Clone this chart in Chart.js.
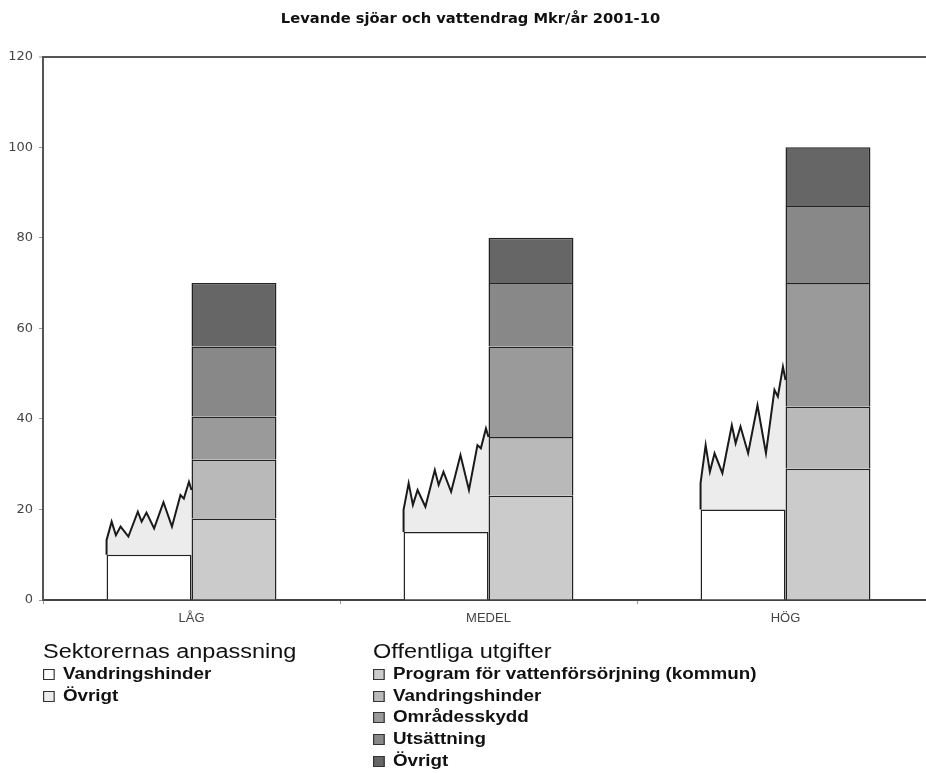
<!DOCTYPE html>
<html>
<head>
<meta charset="utf-8">
<script src="https://cdn.jsdelivr.net/npm/chart.js@4.4.1/dist/chart.umd.min.js"></script>
<style>
  html, body { margin: 0; padding: 0; overflow: hidden; background: #fff; }
  #wrap { position: relative; width: 926px; height: 773px; overflow: hidden; }
  #wrap canvas { position: absolute; left: 0; top: 0; }
  .legend { position: absolute; font-family: "Liberation Sans", Arial, sans-serif; color: #111;
            transform: scaleX(1.175); transform-origin: 0 0; }
  .legend .head { font-size: 20px; height: 23px; line-height: 23px; }
  .legend .item { font-size: 16px; font-weight: bold; height: 21.7px; line-height: 21.7px; white-space: nowrap; }
  .legend .sw { display: inline-block; width: 8px; height: 9px; border: 1px solid #333; margin-right: 7px; vertical-align: -1px; }
</style>
</head>
<body>
<div id="wrap">
  <canvas id="chart" width="950" height="773"></canvas>
  <div class="legend" id="legSek" style="left:43px; top:640px;"></div>
  <div class="legend" id="legOff" style="left:373px; top:640px;"></div>
</div>
<script>
const categories = ['LÅG', 'MEDEL', 'HÖG'];

// Sektorernas anpassning
const sekVandring = [10, 15, 20];
// jagged top of "Övrigt" (value at each step across the bar)
const zigSteps = [0, 0.06, 0.11, 0.165, 0.257, 0.368, 0.413, 0.47, 0.56, 0.67, 0.77, 0.87, 0.91, 0.97, 1];
const sekOvrigtLag = [13.2, 17.3, 14.3, 16.2, 14.0, 19.5, 17.3, 19.3, 15.8, 21.6, 16.2, 23.2, 22.4, 26.1, 24.3];
const sekOvrigtMedel = [19.9, 25.8, 21.0, 24.3, 20.6, 28.7, 25.4, 28.3, 23.9, 32.0, 24.3, 34.2, 33.5, 37.9, 36.0];
const sekOvrigtHog = [25.8, 34.2, 28.3, 32.4, 28.0, 38.6, 34.6, 38.3, 32.4, 43.0, 32.4, 46.4, 44.9, 51.5, 48.6];

// Offentliga utgifter
const offProgram = [18, 23, 29];
const offVandring = [13, 13, 13.7];
const offOmrade = [9.5, 20, 27.3];
const offUtsatt = [15.5, 14, 17];
const offOvrigt = [14, 10, 13];

const yTicks = [0, 20, 40, 60, 80, 100, 120];

const FONT = '"Liberation Sans", Arial, sans-serif';
const WIDE = '"DejaVu Sans", Verdana, sans-serif';
const catPct = 0.572;
const edge = '#222';

// all marks sit on one hidden linear axis (category i at x = i),
// the visible category axis only carries the labels
function bar(label, data, stack, color) {
  return {
    label, stack, xAxisID: 'xz', order: 0,
    data: data.map((v, i) => ({ x: i, y: v })),
    backgroundColor: color, borderColor: edge, borderWidth: 1.5
  };
}

// left bar spans i - catPct/2 .. i
function zig(i, tops) {
  const w = catPct / 2;
  const pts = [{ x: i - w, y: sekVandring[i] }];
  tops.forEach((v, k) => pts.push({ x: i - w + zigSteps[k] * w, y: v }));
  return {
    type: 'line', label: 'Övrigt', xAxisID: 'xz', stack: 'z' + i,
    data: pts, fill: { value: sekVandring[i] },
    backgroundColor: '#ececec', borderColor: '#1a1a1a', borderWidth: 2,
    pointRadius: 0, tension: 0, order: 1
  };
}

const sekSets = [
  bar('Vandringshinder', sekVandring, 'sek', '#ffffff')
];
const offSets = [
  bar('Program för vattenförsörjning (kommun)', offProgram, 'off', '#cbcbcb'),
  bar('Vandringshinder', offVandring, 'off', '#b9b9b9'),
  bar('Områdesskydd', offOmrade, 'off', '#9a9a9a'),
  bar('Utsättning', offUtsatt, 'off', '#888888'),
  bar('Övrigt', offOvrigt, 'off', '#666666')
];
const zigSets = [zig(0, sekOvrigtLag), zig(1, sekOvrigtMedel), zig(2, sekOvrigtHog)];

new Chart(document.getElementById('chart'), {
  type: 'bar',
  data: {
    labels: categories,
    datasets: [...sekSets, ...offSets, ...zigSets]
  },
  options: {
    responsive: false,
    animation: false,
    datasets: { bar: { categoryPercentage: catPct, barPercentage: 1 } },
    layout: { padding: { left: 7, right: 16, top: 0, bottom: 143 } },
    plugins: {
      legend: { display: false },
      tooltip: { enabled: false },
      title: {
        display: true,
        text: 'Levande sjöar och vattendrag Mkr/år 2001-10',
        color: '#111',
        font: { family: WIDE, size: 14.7, weight: 'bold' },
        padding: { top: 10, bottom: 29 }
      }
    },
    scales: {
      x: {
        type: 'category',
        grid: { offset: true, drawOnChartArea: false, tickLength: 4, color: '#999' },
        border: { color: '#444', width: 2 },
        ticks: { color: '#444', font: { family: FONT, size: 13 }, padding: 7 },
        afterFit(s) { s.height = 30; }
      },
      xz: {
        type: 'linear', display: false, offset: false, stacked: true,
        min: -0.5, max: categories.length - 0.5,
        grid: { offset: false },
        afterBuildTicks(s) { s.ticks = categories.map((c, i) => ({ value: i })); }
      },
      y: {
        stacked: true,
        min: 0, max: 120,
        afterBuildTicks(s) { s.ticks = yTicks.map(v => ({ value: v })); },
        grid: {
          drawOnChartArea: true,
          color: c => (c.tick && c.tick.value === 120) ? '#555' : 'rgba(0,0,0,0)',
          lineWidth: c => (c.tick && c.tick.value === 120) ? 2 : 1,
          tickColor: '#999', tickWidth: 1, tickLength: 4
        },
        border: { color: '#555', width: 2 },
        ticks: { color: '#444', font: { family: WIDE, size: 13 }, padding: 6 },
        afterFit(s) { s.width = 36; }
      }
    }
  }
});

function legend(el, head, items) {
  let html = '<div class="head">' + head + '</div>';
  items.forEach(d => {
    html += '<div class="item"><span class="sw" style="background:' + d.backgroundColor + '"></span>' + d.label + '</div>';
  });
  document.getElementById(el).innerHTML = html;
}
legend('legSek', 'Sektorernas anpassning', [sekSets[0], zigSets[0]]);
legend('legOff', 'Offentliga utgifter', offSets);
</script>
</body>
</html>
